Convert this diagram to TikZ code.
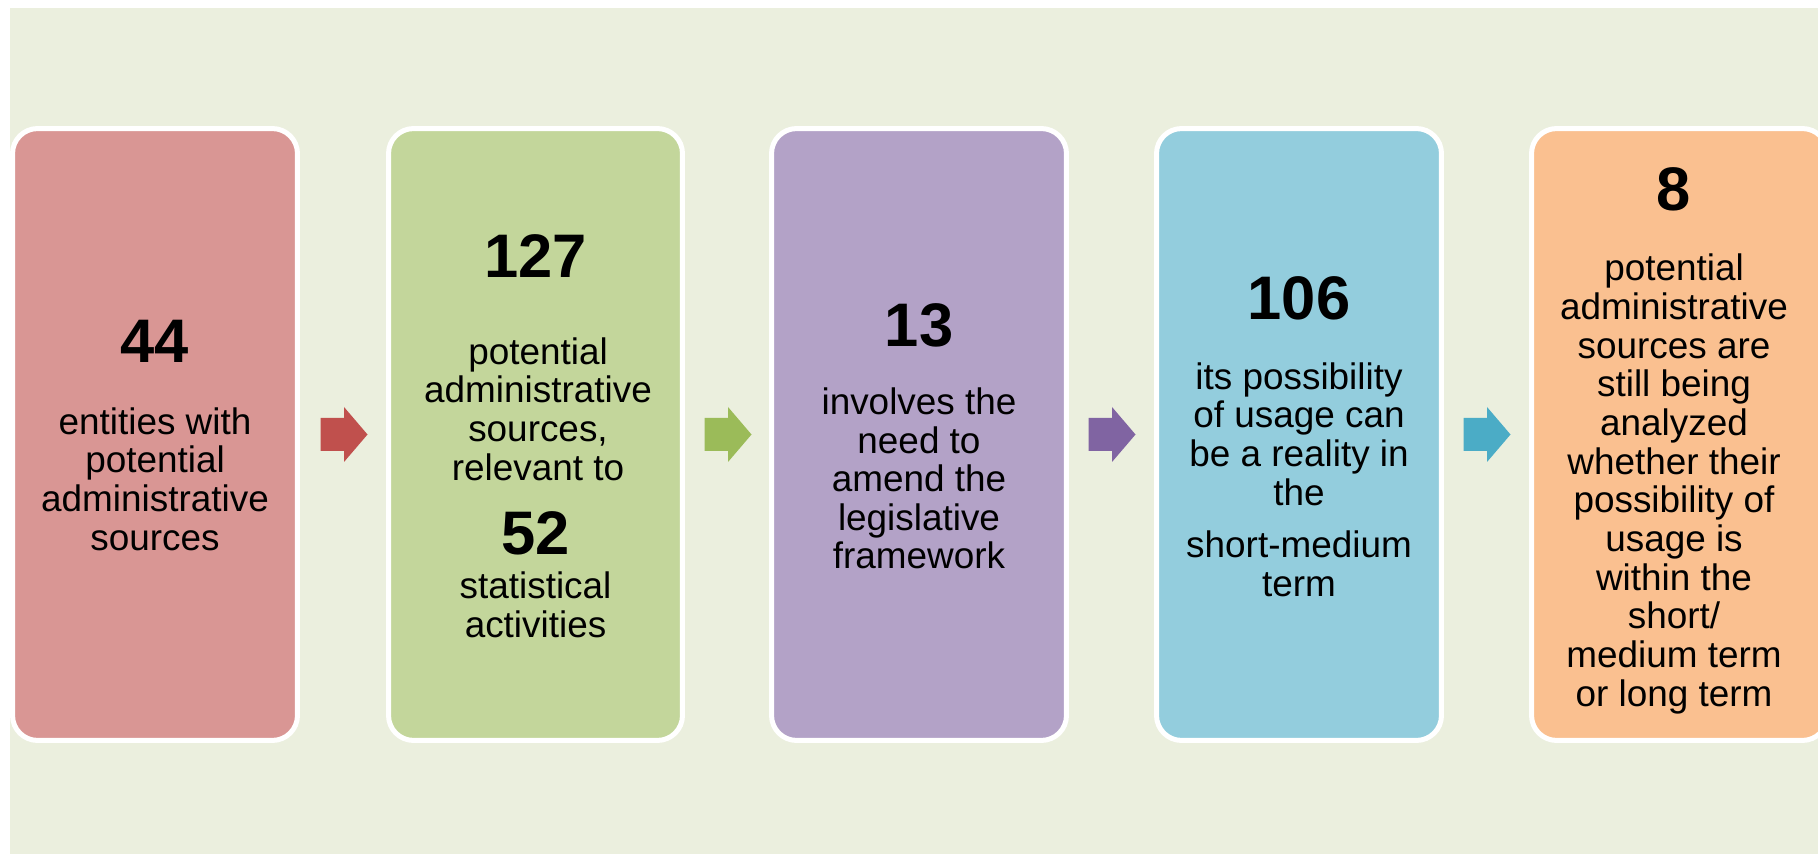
\documentclass[tikz,border=0pt]{standalone}
\usepackage{fontspec}
\setmainfont{Liberation Sans}
\definecolor{bgcol}{HTML}{EBEFDE}
\definecolor{redbox}{HTML}{D99694}
\definecolor{greenbox}{HTML}{C3D69B}
\definecolor{purplebox}{HTML}{B3A2C7}
\definecolor{bluebox}{HTML}{93CDDD}
\definecolor{orangebox}{HTML}{FAC090}
\definecolor{redarr}{HTML}{C0504D}
\definecolor{greenarr}{HTML}{9BBB59}
\definecolor{purplearr}{HTML}{8064A2}
\definecolor{bluearr}{HTML}{4BACC6}
\begin{document}
\begin{tikzpicture}[x=0.02cm, y=-0.02cm,
	box/.style={rounded corners=0.5cm, draw=white, line width=2.85pt, minimum height=12.24cm, inner sep=0pt},
	num/.style={font=\fontsize{35}{40}\selectfont\bfseries, inner sep=0pt},
	txt/.style={font=\fontsize{21}{22}\selectfont, align=center, inner sep=0pt}]
	\useasboundingbox (0, 0) rectangle (1818, 854);
	\fill [bgcol] (10, 8) rectangle (1818, 854);
	
	\draw node at (155, 434.5) [box, fill=redbox, minimum width=5.7cm] (b1) {};
	\draw node at (535.5, 434.5) [box, fill=greenbox, minimum width=5.88cm] (b2) {};
	\draw node at (919, 434.5) [box, fill=purplebox, minimum width=5.9cm] (b3) {};
	\draw node at (1299, 434.5) [box, fill=bluebox, minimum width=5.7cm] (b4) {};
	\draw node at (1679.5, 434.5) [box, fill=orangebox, minimum width=5.92cm] (b5) {};
	
	\draw node at (155, 341) [num] (n1) {44};
	\draw node at (155, 479) [txt] (t1) {entities with\\potential\\administrative\\sources};
	
	\draw node at (535.5, 256) [num] (n2) {127};
	\draw node at (538, 409) [txt] (t2) {potential\\administrative\\sources,\\relevant to};
	\draw node at (535.5, 533) [num] (n2b) {52};
	\draw node at (535.5, 605) [txt] (t2b) {statistical\\activities};
	
	\draw node at (919, 325) [num] (n3) {13};
	\draw node at (919, 478.5) [txt] (t3) {involves the\\need to\\amend the\\legislative\\framework};
	
	\draw node at (1299, 298) [num] (n4) {106};
	\draw node at (1299, 434) [txt] (t4) {its possibility\\of usage can\\be a reality in\\the};
	\draw node at (1299, 563.5) [txt] (t4b) {short-medium\\term};
	
	\draw node at (1674, 189) [num] (n5) {8};
	\draw node at (1674, 484) [txt] (t5) {potential\\administrative\\sources are\\still being\\analyzed\\whether their\\possibility of\\usage is\\within the\\short/\\medium term\\or long term};
	
	% block arrows between the boxes
	\foreach \cx/\col in {344/redarr, 728/greenarr, 1112/purplearr, 1487/bluearr}
		\fill [\col] (\cx-23.5, 418) -- (\cx, 418) -- (\cx, 407) -- (\cx+23.5, 434.5)
			-- (\cx, 462) -- (\cx, 451) -- (\cx-23.5, 451) -- cycle;
\end{tikzpicture}
\end{document}
